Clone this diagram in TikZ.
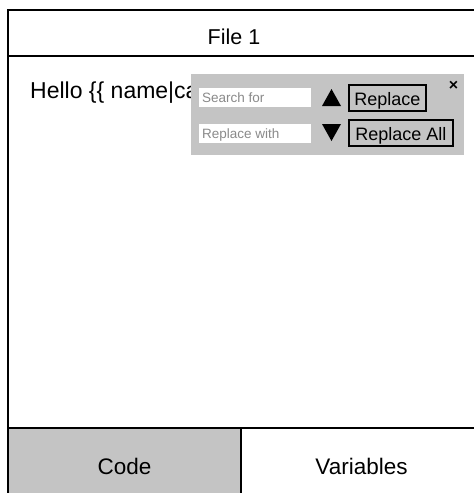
\documentclass[tikz,border=0pt]{standalone}
\usepackage{fontspec}
\setmainfont{Liberation Sans}
\definecolor{panelgrey}{HTML}{C4C4C4}
\definecolor{hintgrey}{HTML}{8A8A8A}
\tikzset{
  frameline/.style={draw=black,line width=2pt},
  bigtext/.style={font=\fontsize{21.5}{25}\selectfont,anchor=base,inner sep=0pt},
  fieldbox/.style={fill=white,draw=none,minimum width=112pt,minimum height=19pt,inner sep=0pt},
  hinttext/.style={font=\fontsize{13.5}{15}\selectfont,text=hintgrey,anchor=base west,inner sep=0pt},
  btnbox/.style={draw=black,line width=1.3pt,inner sep=0pt,minimum height=26pt},
  btntext/.style={font=\fontsize{18}{21}\selectfont,anchor=base,inner sep=0pt},
  arrowtri/.style={fill=black,draw=none}
}
\begin{document}
\begin{tikzpicture}[x=1pt,y=-1pt]
\useasboundingbox (0,0) rectangle (474,493);
\begin{scope}
\clip (0,0) rectangle (474,493);
% code tab background
\fill[panelgrey] (8,428) rectangle (241,500);
% outer frame
\draw[frameline] (8,500) -- (8,10) -- (490,10);
\draw[frameline] (8,56) -- (490,56);
\draw[draw=black,line width=1.5pt] (8,428) -- (490,428);
\draw[draw=black,line width=1.5pt] (241,428) -- (241,500);
\end{scope}
% texts
\node[bigtext] (title) at (234,44) {File 1};
\node[bigtext,anchor=base west,font=\fontsize{23}{26}\selectfont] (hello) at (30,98) {Hello \{\{ name|ca};
\node[bigtext,font=\fontsize{22.5}{26}\selectfont] (code) at (124.5,474) {Code};
\node[bigtext,font=\fontsize{22.5}{26}\selectfont] (vars) at (361.5,474) {Variables};
% popup
\node[fill=panelgrey,draw=none,inner sep=0pt,minimum width=273pt,minimum height=81pt] (popup) at (327.5,114.5) {};
\node[fieldbox] (search) at (255,97.5) {};
\node[hinttext] (searchtxt) at (202,102.5) {Search for};
\node[fieldbox] (replace) at (255,133) {};
\node[hinttext] (replacetxt) at (202,138) {Replace with};
\coordinate (upa) at (322,106);
\coordinate (upb) at (341,106);
\coordinate (upc) at (331.5,89);
\fill[arrowtri] (upa) -- (upb) -- (upc) -- cycle;
\coordinate (dna) at (322,124);
\coordinate (dnb) at (341,124);
\coordinate (dnc) at (331.5,141);
\fill[arrowtri] (dna) -- (dnb) -- (dnc) -- cycle;
\node[btnbox,minimum width=77pt] (btnrep) at (387.5,98) {};
\node[btntext] (btnreptxt) at (387.5,105) {Replace};
\node[btnbox,minimum width=104pt] (btnall) at (401,133) {};
\node[btntext] (btnalltxt) at (401,140.5) {Replace All};
\node[font=\fontsize{16}{18}\selectfont\bfseries,inner sep=0pt] (close) at (453.5,86) {×};
\end{tikzpicture}
\end{document}
